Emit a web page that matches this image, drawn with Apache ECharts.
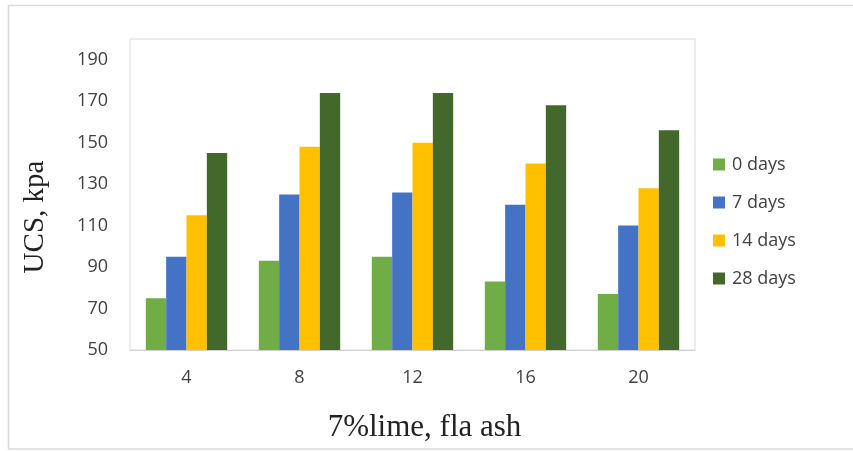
<!DOCTYPE html>
<html>
<head>
<meta charset="utf-8">
<script src="https://cdn.jsdelivr.net/npm/echarts@6/dist/echarts.min.js"></script>
<style>
  html, body { margin: 0; padding: 0; background: #ffffff; }
  #chart { width: 853px; height: 451px; }
</style>
</head>
<body>
<div id="chart"></div>
<script>
// Fly-ash content (%) with 7% lime
const categories = ['4', '8', '12', '16', '20'];

// Unconfined compressive strength (kPa) by curing period
const days0  = [75, 93, 95, 83, 77];
const days7  = [95, 125, 126, 120, 110];
const days14 = [115, 148, 150, 140, 128];
const days28 = [145, 174, 174, 168, 156];

const seriesNames = ['0 days', '7 days', '14 days', '28 days'];
const seriesColors = ['#70AD47', '#4472C4', '#FFC000', '#43682B'];

// Value-axis tick labels
const yTicks = [50, 70, 90, 110, 130, 150, 170, 190];

const chart = echarts.init(document.getElementById('chart'), null, { renderer: 'canvas' });

const tickFont = '"Open Sans", "Noto Sans", sans-serif';
const titleFont = '"Liberation Serif", "Times New Roman", serif';

chart.setOption({
  backgroundColor: '#ffffff',
  animation: false,
  graphic: [{
    type: 'rect',
    shape: { x: 8.5, y: 5.5, width: 850, height: 443.5 },
    style: { fill: 'none', stroke: '#d9d9d9', lineWidth: 1.5 },
    silent: true
  }],
  grid: {
    left: 130, top: 39, right: 158, bottom: 101,
    outerBoundsMode: 'none',
    containLabel: false,
    show: true, borderColor: '#d9d9d9', borderWidth: 1
  },
  legend: {
    orient: 'vertical',
    left: 708, top: 149,
    itemWidth: 12, itemHeight: 12, itemGap: 17,
    icon: 'rect',
    textStyle: { fontFamily: tickFont, fontSize: 18, color: '#404040', lineHeight: 21, padding: [0, 0, 0, 2] },
    data: seriesNames
  },
  xAxis: {
    type: 'category',
    data: categories,
    name: '7%lime, fla ash',
    nameLocation: 'middle',
    nameGap: 62,
    nameTextStyle: { fontFamily: titleFont, fontSize: 31, color: '#222222', padding: [0, 0, 0, 24] },
    axisLine: { show: true, lineStyle: { color: '#d0d0d0', width: 1 } },
    axisTick: { show: false },
    axisLabel: { fontFamily: tickFont, fontSize: 18, color: '#404040', margin: 19 },
    splitLine: { show: false }
  },
  yAxis: {
    type: 'value',
    min: 50, max: 200,
    name: 'UCS, kpa',
    nameLocation: 'middle',
    nameGap: 80,
    nameTextStyle: { fontFamily: titleFont, fontSize: 29, color: '#222222', padding: [0, 45, 0, 0] },
    axisLine: { show: false },
    axisTick: { show: false },
    splitLine: { show: false },
    axisLabel: {
      customValues: yTicks,
      fontFamily: tickFont, fontSize: 18, color: '#404040', margin: 22
    }
  },
  series: [days0, days7, days14, days28].map((vals, i) => ({
    name: seriesNames[i],
    type: 'bar',
    data: vals,
    barGap: '0%',
    barCategoryGap: '28%',
    itemStyle: { color: seriesColors[i] }
  }))
});
</script>
</body>
</html>
